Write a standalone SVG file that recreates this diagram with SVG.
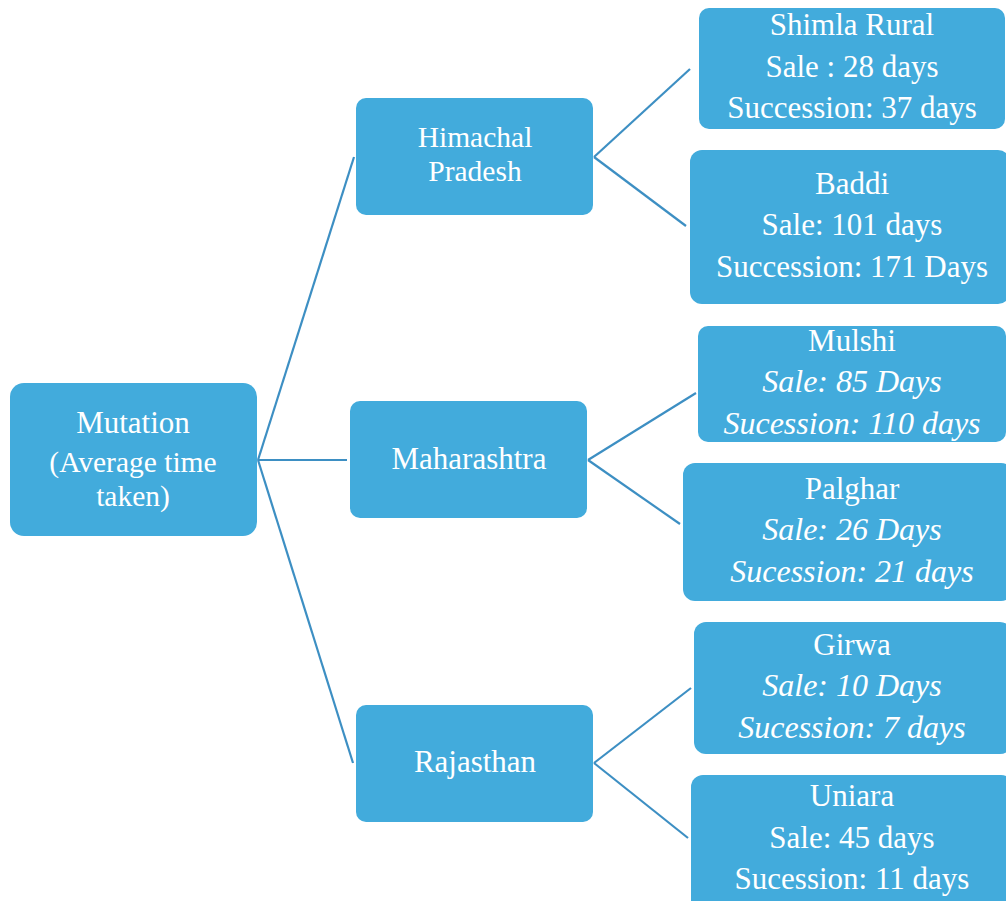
<svg xmlns="http://www.w3.org/2000/svg" width="1006" height="901" viewBox="0 0 1006 901">
  <style>
    .box { fill: #42abdc; }
    .lbl { font-family: "Liberation Serif", "DejaVu Serif", serif; font-size: 31px; fill: #ffffff; text-anchor: middle; }
    .tight { font-size: 29.5px; }
    .it { font-style: italic; font-size: 32px; }
    .edge { stroke: #3d8fc3; stroke-width: 2.2; fill: none; }
  </style>
  <rect width="1006" height="901" fill="#ffffff"/>

  <!-- connectors -->
  <g id="connectors">
    <line class="edge" x1="258" y1="460" x2="354" y2="157"/>
    <line class="edge" x1="258" y1="460" x2="347" y2="460"/>
    <line class="edge" x1="258" y1="460" x2="353" y2="763"/>
    <line class="edge" x1="594" y1="157" x2="690" y2="69"/>
    <line class="edge" x1="594" y1="157" x2="686" y2="226"/>
    <line class="edge" x1="588" y1="460" x2="696" y2="393"/>
    <line class="edge" x1="588" y1="460" x2="680" y2="524"/>
    <line class="edge" x1="594" y1="763" x2="691" y2="688"/>
    <line class="edge" x1="594" y1="763" x2="688" y2="838"/>
  </g>

  <!-- root -->
  <g id="mutation">
    <rect class="box" x="10" y="383" width="247" height="153" rx="14"/>
    <text class="lbl" x="133" y="433">Mutation</text>
    <text class="lbl tight" x="133" y="472">(Average time</text>
    <text class="lbl tight" x="133" y="506">taken)</text>
  </g>

  <!-- states -->
  <g id="himachal-pradesh">
    <rect class="box" x="356" y="98" width="237" height="117" rx="10"/>
    <text class="lbl tight" x="475" y="147">Himachal</text>
    <text class="lbl tight" x="475" y="181">Pradesh</text>
  </g>
  <g id="maharashtra">
    <rect class="box" x="350" y="401" width="237" height="117" rx="10"/>
    <text class="lbl" x="469" y="469">Maharashtra</text>
  </g>
  <g id="rajasthan">
    <rect class="box" x="356" y="705" width="237" height="117" rx="10"/>
    <text class="lbl" x="475" y="772">Rajasthan</text>
  </g>

  <!-- districts -->
  <g id="shimla-rural">
    <rect class="box" x="699" y="8" width="306" height="121" rx="10"/>
    <text class="lbl" x="852" y="35">Shimla Rural</text>
    <text class="lbl" x="852" y="77">Sale : 28 days</text>
    <text class="lbl" x="852" y="118">Succession: 37 days</text>
  </g>
  <g id="baddi">
    <rect class="box" x="690" y="150" width="320" height="154" rx="12"/>
    <text class="lbl" x="852" y="194">Baddi</text>
    <text class="lbl" x="852" y="235">Sale: 101 days</text>
    <text class="lbl" x="852" y="277">Succession: 171 Days</text>
  </g>
  <g id="mulshi">
    <rect class="box" x="698" y="326" width="308" height="116" rx="10"/>
    <text class="lbl" x="852" y="351">Mulshi</text>
    <text class="lbl it" x="852" y="392">Sale: 85 Days</text>
    <text class="lbl it" x="852" y="434">Sucession: 110 days</text>
  </g>
  <g id="palghar">
    <rect class="box" x="683" y="463" width="330" height="138" rx="12"/>
    <text class="lbl" x="852" y="499">Palghar</text>
    <text class="lbl it" x="852" y="540">Sale: 26 Days</text>
    <text class="lbl it" x="852" y="582">Sucession: 21 days</text>
  </g>
  <g id="girwa">
    <rect class="box" x="694" y="622" width="318" height="132" rx="12"/>
    <text class="lbl" x="852" y="655">Girwa</text>
    <text class="lbl it" x="852" y="696">Sale: 10 Days</text>
    <text class="lbl it" x="852" y="738">Sucession: 7 days</text>
  </g>
  <g id="uniara">
    <rect class="box" x="691" y="775" width="322" height="140" rx="12"/>
    <text class="lbl" x="852" y="806">Uniara</text>
    <text class="lbl" x="852" y="848">Sale: 45 days</text>
    <text class="lbl" x="852" y="889">Sucession: 11 days</text>
  </g>
</svg>
